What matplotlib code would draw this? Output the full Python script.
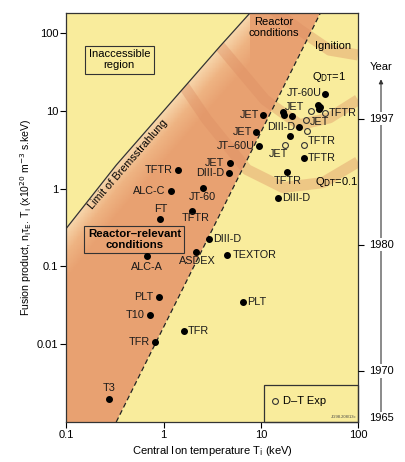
import numpy as np
import matplotlib
matplotlib.use("Agg")
import matplotlib.pyplot as plt
from matplotlib.patches import Polygon, Rectangle
from matplotlib.colors import LinearSegmentedColormap
import matplotlib.transforms as mtransforms

plt.rcParams['font.family'] = ['Liberation Sans', 'DejaVu Sans']

# ---- data ----
# filled points: machine, Ti (keV), fusion product
pt_names = ['T3', 'TFR', 'T10', 'TFR', 'PLT', 'PLT', 'ALC-A', 'ASDEX', 'TEXTOR',
            'DIII-D', 'FT', 'TFTR', 'JT-60', 'ALC-C', 'TFTR', 'DIII-D', 'JET',
            'DIII-D', 'TFTR', 'TFTR', 'JT\u201360U', 'JET', 'JET', '', '', 'JET',
            'DIII-D', '', 'JT-60U', '', '', '']
pt_T = [0.275, 0.82, 0.73, 1.6, 0.9, 6.6, 0.67, 2.15, 4.45,
        2.91, 0.925, 1.98, 2.52, 1.2, 1.41, 4.75, 4.8,
        15, 18.4, 27.5, 9.5, 8.9, 10.6, 16.9, 17.2, 21,
        24.7, 19.9, 45.5, 39, 41, 40]
pt_val = [0.002, 0.0108, 0.0238, 0.0146, 0.040, 0.035, 0.134, 0.154, 0.138,
          0.226, 0.40, 0.52, 1.01, 0.92, 1.75, 1.57, 2.11,
          0.745, 1.62, 2.5, 3.5, 5.4, 8.8, 9.6, 8.7, 8.6,
          6.1, 4.8, 16.4, 11.9, 11.3, 10.6]

# open points (D-T experiments)
dt_names = ['', 'TFTR', 'JET', '', 'JET', 'TFTR']
dt_T = [32.7, 45.3, 29, 29.6, 17.7, 27.5]
dt_val = [10, 9.3, 7.7, 5.5, 3.6, 3.6]

# boundary lines
brems_T = [0.1, 0.325, 3.78, 7.7]
brems_val = [0.31, 2.0, 66.7, 179]
dashed_T = [0.325, 41]
dashed_val = [0.001, 180]

# Q contour bands (centre lines)
q01_T = [1.46, 2.77, 7.2, 16.9, 43.5, 100]
q01_val = [25, 7.7, 1.75, 1.03, 1.19, 2.2]
q1_T = [1.8, 3.35, 11, 25, 51, 100]
q1_val = [300, 81, 13.8, 6.6, 8.1, 13.8]
ign_T = [6, 12, 25, 51, 100]
ign_val = [600, 220, 110, 60, 52]

# year scale on the right
years = ['1997', '1980', '1970', '1965']
year_pos = [7.9, 0.19, 0.0045, 0.00112]

xticks = [0.1, 1, 10, 100]
xtick_labels = ['0.1', '1', '10', '100']
yticks = [0.01, 0.1, 1, 10, 100]
ytick_labels = ['0.01', '0.1', '1', '10', '100']

# ---- label placement (offset pts, ha, va) ----
pt_lab = [(0, 4, 'center', 'bottom'), (-4, 0, 'right', 'center'), (-4, 0, 'right', 'center'),
          (3, 0, 'left', 'center'), (-4, 0, 'right', 'center'), (3, 0, 'left', 'center'),
          (0, -4, 'center', 'top'), (1, -3, 'center', 'top'), (4, 0, 'left', 'center'),
          (3, 0, 'left', 'center'), (0, 4, 'center', 'bottom'), (2, -2, 'center', 'top'),
          (0, -3, 'center', 'top'), (-4, 0, 'right', 'center'), (-4, 0, 'right', 'center'),
          (-4, 0, 'right', 'center'), (-4, 0, 'right', 'center'),
          (3, 0, 'left', 'center'), (1, -3, 'center', 'top'), (3, 0, 'left', 'center'),
          (-3, 0, 'right', 'center'), (-3, 0, 'right', 'center'), (-3, 0, 'right', 'center'),
          None, None, (2, 3, 'center', 'bottom'),
          (-3, 0, 'right', 'center'), None, (-2, 1, 'right', 'center'), None, None, None]
dt_lab = [None, (3, 0, 'left', 'center'), (3, -2, 'left', 'center'), None,
          (2, -3, 'right', 'top'), (3, 3, 'left', 'center')]

YELLOW = '#F9EC9C'
ytop = 180

fig = plt.figure(figsize=(4.06, 4.62), dpi=100)
ax = fig.add_axes([66.5 / 406, 40 / 462, (358 - 66.5) / 406, (422 - 13) / 462])
ax.set_xscale('log')
ax.set_yscale('log')
ax.set_xlim(0.1, 100)
ax.set_ylim(0.001, ytop)
ax.set_facecolor(YELLOW)

# orange region with gradient away from the Bremsstrahlung limit
orange_verts = [(0.1, 0.001), (dashed_T[0], 0.001), (dashed_T[1], ytop)] + \
    list(zip(brems_T[::-1], brems_val[::-1]))
orange_patch = Polygon(orange_verts, closed=True, transform=ax.transData,
                       facecolor='none', edgecolor='none')
ax.add_patch(orange_patch)
lx = np.linspace(-1, 2, 500)
ly = np.linspace(-3, np.log10(ytop), 500)
LX, LY = np.meshgrid(lx, ly)
line_y = np.interp(LX, np.log10(brems_T), np.log10(brems_val),
                   right=np.log10(ytop) + 5)
dist = np.clip((line_y - LY) / 0.65, 0, 1)
cmap = LinearSegmentedColormap.from_list('orng', ['#F7D7AC', '#EEB382', '#E8A171'])
mesh = ax.pcolormesh(10 ** lx, 10 ** ly, dist, cmap=cmap, shading='auto',
                     zorder=0.5, antialiased=False, linewidth=0)
mesh.set_clip_path(orange_patch)

# Q contour bands, clipped below the Bremsstrahlung limit
below_verts = [(0.1, 0.001), (100, 0.001), (100, ytop)] + \
    list(zip(brems_T[::-1], brems_val[::-1]))
below_patch = Polygon(below_verts, closed=True, transform=ax.transData,
                      facecolor='none', edgecolor='none')
ax.add_patch(below_patch)
for bT, bv in [(q01_T, q01_val), (q1_T, q1_val), (ign_T, ign_val)]:
    ln, = ax.plot(bT, bv, color='#DC8C62', lw=8, alpha=0.38,
                  solid_capstyle='butt', solid_joinstyle='round', zorder=1)
    ln.set_clip_path(below_patch)

ax.plot(brems_T, brems_val, color='#333333', lw=0.9, zorder=2)
ax.plot(dashed_T, dashed_val, color='#222222', lw=0.9, dashes=(4, 2.5), zorder=2)

# data points
ax.plot(pt_T, pt_val, 'o', color='black', ms=4, zorder=4)
ax.plot(dt_T, dt_val, 'o', mfc='none', mec='#333333', mew=0.8, ms=4.2, zorder=4)

for name, t, v, lab in zip(pt_names + dt_names, pt_T + dt_T, pt_val + dt_val, pt_lab + dt_lab):
    if lab is None or not name:
        continue
    dx, dy, ha, va = lab
    ax.annotate(name, (t, v), xytext=(dx, dy), textcoords='offset points',
                ha=ha, va=va, fontsize=7.8, color='#1a1a1a', zorder=5)

# region texts
ax.text(0.35, 45, 'Inaccessible\nregion', ha='center', va='center', fontsize=8,
        linespacing=1.1,
        bbox=dict(boxstyle='square,pad=0.35', fc='none', ec='#333333', lw=0.8))
ax.text(0.5, 0.22, 'Reactor\u2013relevant\nconditions', ha='center', va='center',
        fontsize=8.2, fontweight='bold', linespacing=1.05,
        bbox=dict(boxstyle='square,pad=0.3', fc='none', ec='#333333', lw=0.8))
ax.text(13.6, 117, 'Reactor\nconditions', ha='center', va='center', fontsize=8,
        linespacing=1.05)
ax.text(55, 68, 'Ignition', ha='center', va='center', fontsize=8)
ax.text(33.6, 27, r'Q$_{\rm DT}$=1', ha='left', va='center', fontsize=8)
ax.text(36, 1.2, r'Q$_{\rm DT}$=0.1', ha='left', va='center', fontsize=8)

# Bremsstrahlung label along the line
t_lab = 0.37
v_lab = 10 ** np.interp(np.log10(t_lab), np.log10(brems_T), np.log10(brems_val))
ax.text(t_lab, v_lab, 'Limit of Bremsstrahlung', rotation=49, rotation_mode='anchor',
        ha='center', va='top', fontsize=7.8,
        transform=ax.transData + mtransforms.ScaledTranslation(1.5 / 72, -1.5 / 72, fig.dpi_scale_trans))

# D-T legend box
ax.add_patch(Rectangle((10.8, 0.001), 89.2, 0.002, transform=ax.transData,
                       fc='none', ec='#333333', lw=0.9, zorder=3, clip_on=False))
ax.plot([14], [0.00186], 'o', mfc='none', mec='#333333', mew=0.8, ms=4.2, zorder=4)
ax.text(16.9, 0.00186, 'D\u2013T Exp', ha='left', va='center', fontsize=8)
ax.text(97, 0.00108, 'JG98.208/13c', ha='right', va='bottom', fontsize=3, color='#444444')

# axes styling
ax.set_xticks(xticks)
ax.set_xticklabels(xtick_labels)
ax.set_yticks(yticks)
ax.set_yticklabels(ytick_labels)
ax.minorticks_off()
ax.tick_params(axis='both', direction='out', length=4, width=0.8, labelsize=8, pad=2)
for s in ax.spines.values():
    s.set_linewidth(0.9)
    s.set_color('#333333')
ax.set_xlabel('Central Ion temperature T$_{\\rm i}$ (keV)', fontsize=8, labelpad=3)
ax.set_ylabel('Fusion product, n$_{\\rm i}$\u03c4$_{\\rm E}$. T$_{\\rm i}$ '
              '(x10$^{20}$ m$^{-3}$ s.keV)', fontsize=7.6, labelpad=2)

# year scale
ax2 = ax.twinx()
ax2.set_yscale('log')
ax2.set_ylim(0.001, ytop)
ax2.set_yticks(year_pos[:3])
ax2.set_yticklabels([])
ax2.minorticks_off()
ax2.tick_params(axis='y', direction='out', length=4, width=0.8)
for s in ax2.spines.values():
    s.set_visible(False)

xa = (381 - 66.5) / (358 - 66.5)
trans = mtransforms.blended_transform_factory(ax.transAxes, ax.transData)
ax.annotate('', xy=(xa, 0.838), xytext=(xa, 0.022), xycoords='axes fraction',
            arrowprops=dict(arrowstyle='-|>', color='#333333', lw=0.8,
                            mutation_scale=6, shrinkA=0, shrinkB=0),
            annotation_clip=False)
for yr, yp in zip(years, year_pos):
    ax.text(xa, yp, yr, transform=trans, ha='center', va='center', fontsize=8,
            clip_on=False, bbox=dict(boxstyle='square,pad=0.15', fc='white', ec='none'))
ax.text(xa, 0.868, 'Year', transform=ax.transAxes, ha='center', va='center', fontsize=8)

fig.savefig('out.png', dpi=100)
